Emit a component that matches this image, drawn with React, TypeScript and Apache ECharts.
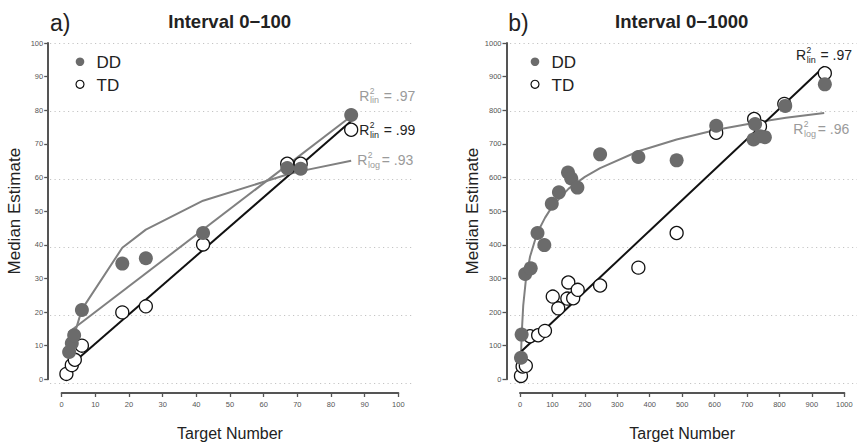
import React, { useEffect, useRef } from 'react';
import * as echarts from 'echarts';

const FONT = '"Liberation Sans", Arial, Helvetica, sans-serif';

// ---------- Panel a) Interval 0-100 ----------
const leftTargetsDD = [2.2, 3, 3.7, 6, 18, 25, 42, 67, 71, 86];
const leftDD = [8.1, 10.7, 13.1, 20.6, 34.4, 36.0, 43.5, 62.8, 62.6, 78.6];
const leftTargetsTD = [1.4, 3, 3.9, 6, 18, 25, 42, 67, 71, 86];
const leftTD = [1.6, 4.2, 5.8, 10.0, 19.9, 21.7, 40.1, 64.1, 64.1, 74.2];

const leftDDLinX = [2, 86];
const leftDDLinY = [13.9, 78.2];
const leftDDLogX = [2, 3, 4, 6, 18, 25, 42, 67, 71, 86];
const leftDDLogY = [2.6, 9.3, 14.1, 20.8, 39.1, 44.5, 53.1, 60.9, 61.9, 65.0];
const leftTDLinX = [1.5, 86];
const leftTDLinY = [3.2, 76.8];

// ---------- Panel b) Interval 0-1000 ----------
const rightTargetsDD = [3, 5, 16, 33, 54, 75, 98, 120, 148, 158, 177, 247, 365, 483, 605, 720, 725, 740, 755, 818, 940];
const rightDD = [64, 133, 313, 330, 435, 399, 522, 556, 615, 597, 570, 669, 661, 651, 754, 713, 759, 723, 720, 813, 877];
const rightTargetsTD = [3, 8, 18, 31, 56, 77, 101, 118, 146, 149, 164, 178, 247, 365, 483, 605, 722, 740, 815, 940];
const rightTD = [10, 38, 40, 128, 131, 144, 246, 211, 240, 288, 241, 266, 279, 332, 435, 733, 774, 752, 819, 910];

const rightTDLinX = [3, 938];
const rightTDLinY = [82, 930];
const rightDDLogX = [2, 3, 5, 10, 18, 31, 53, 77, 100, 150, 200, 247, 365, 483, 606, 725, 820, 938];
const rightDDLogY = [14, 66, 130, 220, 295, 365, 435, 480, 515, 567, 602, 628, 678, 713, 742, 763, 778, 792];

// ---------- labels ----------
const panelLetters = ['a)', 'b)'];
const panelTitles = ['Interval 0\u2212100', 'Interval 0\u22121000'];
const groupNames = ['DD', 'TD'];
const xTitle = 'Target Number';
const yTitle = 'Median Estimate';

const DD_COLOR = '#6b6b6b';
const FIT_GRAY = '#808080';
const LABEL_GRAY = '#9a9a9a';
const AXIS_COLOR = '#555';

const zip = (xs: number[], ys: number[]) => xs.map((x, i) => [x, ys[i]]);
const plain = (v: number) => String(v);

function xAxisCfg(gridIndex: number, max: number, interval: number) {
  return {
    type: 'value', gridIndex, min: 0, max, interval, offset: 13.7,
    axisLine: { show: true, onZero: false, lineStyle: { color: AXIS_COLOR, width: 2 } },
    axisTick: { show: true, length: 4, lineStyle: { color: AXIS_COLOR, width: 1.3 } },
    axisLabel: { fontSize: 7.5, color: '#555', margin: 7, fontFamily: FONT, formatter: plain },
    splitLine: { show: false },
    name: xTitle, nameLocation: 'middle', nameGap: 32,
    nameTextStyle: { fontSize: 16, color: '#222', fontFamily: FONT },
  };
}
function yAxisCfg(gridIndex: number, max: number, interval: number) {
  return {
    type: 'value', gridIndex, min: 0, max, interval, offset: 13.5,
    axisLine: { show: true, onZero: false, lineStyle: { color: AXIS_COLOR, width: 2 } },
    axisTick: { show: true, length: 4, lineStyle: { color: AXIS_COLOR, width: 1.3 } },
    axisLabel: { fontSize: 7.5, color: '#555', margin: 5, fontFamily: FONT, formatter: plain },
    splitLine: { show: false },
    name: yTitle, nameLocation: 'middle', nameGap: 25,
    nameTextStyle: { fontSize: 17, color: '#222', fontFamily: FONT },
  };
}
function gridXAxis(gridIndex: number) {
  return { type: 'value', gridIndex, min: 0, max: 1, show: false };
}
function gridYAxis(gridIndex: number, max: number, interval: number) {
  return {
    type: 'value', gridIndex, min: 0, max, interval,
    axisLine: { show: false }, axisTick: { show: false }, axisLabel: { show: false },
    splitLine: { show: true, lineStyle: { color: '#c4c4c4', width: 1, type: [1.2, 3.3] } },
  };
}

function fitLine(name: string, idx: number, data: number[][], color: string) {
  return {
    type: 'line', name, xAxisIndex: idx, yAxisIndex: idx, data, symbol: 'none', silent: true,
    lineStyle: { color, width: 2 }, z: 2,
  };
}
function ddScatter(idx: number, data: number[][]) {
  return {
    type: 'scatter', name: groupNames[0], xAxisIndex: idx, yAxisIndex: idx, data,
    symbol: 'circle', symbolSize: 14, itemStyle: { color: DD_COLOR, opacity: 1 }, z: 4,
  };
}
function tdScatter(idx: number, data: number[][]) {
  return {
    type: 'scatter', name: groupNames[1], xAxisIndex: idx, yAxisIndex: idx, data,
    symbol: 'circle', symbolSize: 13,
    itemStyle: { color: '#ffffff', borderColor: '#111', borderWidth: 1.3, opacity: 1 }, z: 3,
  };
}

function txt(x: number, y: number, text: string, fontSize: number, fill: string, extra: any = {}) {
  return {
    type: 'text', x, y,
    style: { text, fontSize, fill, fontFamily: FONT, align: 'left', verticalAlign: 'middle', ...extra },
  };
}
function r2Label(x: number, y: number, sub: string, value: string, color: string) {
  return {
    type: 'group', x, y,
    children: [
      txt(0, -5, 'R', 14, color),
      txt(10.4, -10.2, '2', 8.5, color),
      txt(10.8, -0.4, sub, 9, color),
      txt(24.5, -5, '= ' + value, 14, color),
    ],
  };
}
function legend(x: number) {
  return [
    { type: 'circle', shape: { cx: x, cy: 61.7, r: 4.3 }, style: { fill: DD_COLOR } },
    txt(x + 16.5, 62, groupNames[0], 17, '#222'),
    { type: 'circle', shape: { cx: x, cy: 84.3, r: 4 }, style: { fill: '#fff', stroke: '#111', lineWidth: 1.2 } },
    txt(x + 16.5, 85, groupNames[1], 17, '#222'),
  ];
}

const option: any = {
  animation: false,
  backgroundColor: '#ffffff',
  grid: [
    { left: 61.7, top: 43, width: 336.6, height: 340 },
    { left: 520, top: 43, width: 324.3, height: 340 },
    { left: 50, top: 43, width: 363, height: 340 },
    { left: 510, top: 43, width: 347, height: 340 },
  ],
  xAxis: [xAxisCfg(0, 100, 10), xAxisCfg(1, 1000, 100), gridXAxis(2), gridXAxis(3)],
  yAxis: [yAxisCfg(0, 100, 10), yAxisCfg(1, 1000, 100), gridYAxis(2, 100, 20), gridYAxis(3, 1000, 200)],
  series: [
    fitLine('DD linear fit', 0, zip(leftDDLinX, leftDDLinY), FIT_GRAY),
    fitLine('DD log fit', 0, zip(leftDDLogX, leftDDLogY), FIT_GRAY),
    fitLine('TD linear fit', 0, zip(leftTDLinX, leftTDLinY), '#111'),
    tdScatter(0, zip(leftTargetsTD, leftTD)),
    ddScatter(0, zip(leftTargetsDD, leftDD)),
    fitLine('DD log fit', 1, zip(rightDDLogX, rightDDLogY), FIT_GRAY),
    fitLine('TD linear fit', 1, zip(rightTDLinX, rightTDLinY), '#111'),
    tdScatter(1, zip(rightTargetsTD, rightTD)),
    ddScatter(1, zip(rightTargetsDD, rightDD)),
  ],
  graphic: [
    txt(50, 22.5, panelLetters[0], 23, '#222'),
    txt(229.7, 21, panelTitles[0], 18.5, '#222', { align: 'center', fontWeight: 'bold' }),
    txt(508.3, 22.5, panelLetters[1], 23, '#222'),
    txt(681.7, 21, panelTitles[1], 18.5, '#222', { align: 'center', fontWeight: 'bold' }),
    ...legend(80),
    ...legend(535),
    r2Label(359.3, 100.7, 'lin', '.97', LABEL_GRAY),
    r2Label(359.3, 135, 'lin', '.99', '#222'),
    r2Label(357.3, 165, 'log', '.93', LABEL_GRAY),
    r2Label(796, 60, 'lin', '.97', '#222'),
    r2Label(793.3, 134, 'log', '.96', LABEL_GRAY),
  ],
};

export default function App() {
  const ref = useRef<HTMLDivElement>(null);
  useEffect(() => {
    const chart = echarts.init(ref.current as HTMLDivElement, null, { renderer: 'svg' });
    chart.setOption(option);
    return () => chart.dispose();
  }, []);
  return (
    <div
      ref={ref}
      style={{ position: 'fixed', left: 0, top: 0, width: 859, height: 446, background: '#fff' }}
    />
  );
}
